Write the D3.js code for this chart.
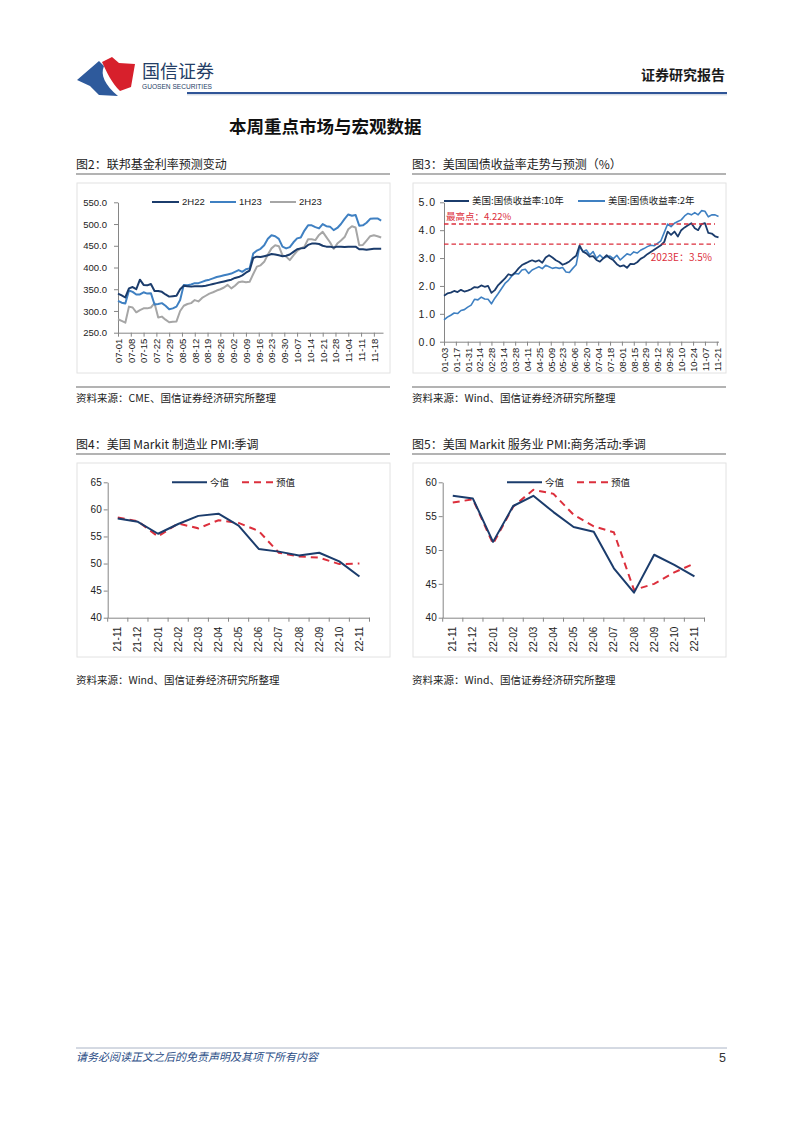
<!DOCTYPE html>
<html><head><meta charset="utf-8">
<script src="https://cdn.jsdelivr.net/npm/d3@7"></script>
<style>
html,body{margin:0;padding:0;background:#fff;}
svg{display:block;}
</style></head><body>
<svg id="page" width="802" height="1133"></svg>
<script>
// ---------- DATA ----------
// Fig 2: Fed funds rate expectations (bp), sampled every 2 calendar days from 2022-07-01
const fedTickLabels = ["07-01","07-08","07-15","07-22","07-29","08-05","08-12","08-19","08-26","09-02","09-09","09-16","09-23","09-30","10-07","10-14","10-21","10-28","11-04","11-11","11-18"];
const fed2H22 = [340,336,331,352,355,350,372,360,359,362, 346,346,344,338,333,334,335,350,358,357, 356,357,357,357,358,360,362,364,366,368, 370,372,376,378,382,388,393,422,425,424, 426,428,431,430,428,426,427,430,436,442, 444,445,452,455,455,454,450,448,448,446, 448,448,447,448,448,448,442,442,441,442, 443,443,443];
const fed1H23 = [323,319,317,347,344,338,338,343,340,341, 315,316,318,312,304,306,310,325,360,359, 361,364,364,367,370,372,375,378,380,382, 384,386,390,394,390,396,398,432,439,443, 451,466,474,472,466,448,444,447,458,467, 469,485,497,497,493,490,500,495,494,486, 491,500,512,522,519,521,496,497,503,512, 513,513,508];
const fed2H23 = [281,277,273,310,308,297,302,306,306,308, 318,285,287,280,274,275,276,300,312,316, 318,325,322,330,335,340,343,347,350,354, 360,352,358,366,368,366,367,385,402,405, 413,430,444,451,449,428,425,417,428,438, 444,448,465,465,463,475,482,470,458,443, 455,462,470,488,495,492,451,452,462,472, 474,472,469];
const fedSeriesNames = ["2H22","1H23","2H23"];

// Fig 3: US Treasury yields (%), sampled every 4 calendar days from 2022-01-03
const ustTickLabels = ["01-03","01-17","01-31","02-14","02-28","03-14","03-28","04-11","04-25","05-09","05-23","06-06","06-20","07-04","07-18","08-01","08-15","08-29","09-12","09-26","10-10","10-24","11-07","11-21"];
const ust10Y = [1.65,1.73,1.76,1.82,1.78,1.86,1.80,1.83,1.88,1.96, 1.94,2.02,1.97,2.00,1.75,1.85,2.03,2.15,2.27,2.42, 2.38,2.48,2.63,2.75,2.81,2.87,2.92,2.87,2.92,2.83, 3.02,3.10,3.02,2.92,2.86,2.76,2.81,2.88,2.99,3.08, 3.45,3.23,3.17,3.05,3.07,2.93,2.87,2.99,3.10,2.99, 2.92,2.78,2.70,2.74,2.65,2.79,2.78,2.85,2.97,3.04, 3.14,3.22,3.30,3.38,3.46,3.58,3.95,3.83,3.95,3.77, 4.00,4.10,4.18,4.25,4.07,4.00,4.22,4.25,3.90,3.88, 3.78,3.74];
const ust2Y = [0.78,0.88,0.95,1.03,1.01,1.12,1.15,1.24,1.31,1.52, 1.50,1.60,1.53,1.52,1.36,1.56,1.73,1.91,2.09,2.20, 2.36,2.45,2.43,2.57,2.60,2.45,2.57,2.63,2.69,2.62, 2.74,2.69,2.63,2.66,2.63,2.66,2.50,2.48,2.63,2.76, 3.40,3.23,3.29,3.11,3.23,2.99,3.11,2.99,3.05,3.07, 2.98,3.10,2.93,3.04,3.15,3.11,3.22,3.18,3.28,3.34, 3.41,3.46,3.44,3.53,3.62,3.92,4.22,4.13,4.25,4.31, 4.37,4.51,4.60,4.55,4.63,4.55,4.70,4.68,4.48,4.55, 4.55,4.49];
const ustSeriesNames = ["美国:国债收益率:10年","美国:国债收益率:2年"];
const ustRefHigh = 4.22, ustRef2023E = 3.5;
const ustRefLabels = ["最高点：4.22%","2023E：3.5%"];

// Fig 4 / Fig 5: US Markit PMI (SA)
const pmiMonths = ["21-11","21-12","22-01","22-02","22-03","22-04","22-05","22-06","22-07","22-08","22-09","22-10","22-11"];
const mfgActual   = [58.3,57.7,55.5,57.3,58.8,59.2,57.0,52.7,52.2,51.5,52.0,50.4,47.6];
const mfgForecast = [58.5,57.8,55.0,57.4,56.5,58.0,57.5,56.0,52.0,51.3,51.1,49.9,50.0];
const svcActual   = [58.0,57.6,51.2,56.5,58.0,55.6,53.4,52.7,47.3,43.7,49.3,47.8,46.1];
const svcForecast = [57.0,57.5,50.9,56.4,58.9,58.3,55.2,53.5,52.6,44.1,45.0,46.7,48.0];
const pmiSeriesNames = ["今值","预值"];

// ---------- STYLE ----------
const CJK = '"Noto Sans CJK SC", sans-serif';
const NUM = '"Liberation Sans", Arial, "Noto Sans CJK SC", sans-serif';
const NAVY = "#1b3c6c", BLUE = "#3f80c2", GRAY = "#a6a6a6", RED = "#dc2f3c", AXIS = "#868686";

const svg = d3.select("#page");
svg.append("rect").attr("width",802).attr("height",1133).attr("fill","#fff");

// ---------- HEADER ----------
svg.append("path").attr("d","M77,80 L99,61 L104,66 C100,75 105,85 118,96 L99,95 L90,86 Z").attr("fill","#2e5a9c");
svg.append("path").attr("d","M102,62 L112,57 L119,63 L135,64 L131,87 L120,91 C112,83 107,73 102,62 Z").attr("fill","#d7202c");
svg.append("text").attr("x",142).attr("y",78).attr("font-family",CJK).attr("font-size",18).attr("fill","#243e66").text("国信证券");
svg.append("text").attr("x",142).attr("y",89).attr("font-family",NUM).attr("font-size",6.6).attr("fill","#243e66").text("GUOSEN SECURITIES");
svg.append("text").attr("x",725).attr("y",80).attr("text-anchor","end").attr("font-family",CJK).attr("font-weight","bold").attr("font-size",14).attr("fill","#1a1a1a").text("证券研究报告");
svg.append("line").attr("x1",187).attr("x2",727).attr("y1",93).attr("y2",93).attr("stroke","#2f5597").attr("stroke-width",2);
svg.append("line").attr("x1",187).attr("x2",727).attr("y1",94.8).attr("y2",94.8).attr("stroke","#b8c2d4").attr("stroke-width",0.8);
svg.append("text").attr("x",229).attr("y",133).attr("font-family",CJK).attr("font-weight","bold").attr("font-size",17.5).attr("fill","#111").text("本周重点市场与宏观数据");

// ---------- FOOTER ----------
svg.append("line").attr("x1",76).attr("x2",727).attr("y1",1048).attr("y2",1048).attr("stroke","#aab4c6").attr("stroke-width",1);
svg.append("text").attr("x",76).attr("y",1061).attr("font-family",CJK).attr("font-style","italic").attr("font-size",11).attr("fill","#2a4d86").text("请务必阅读正文之后的免责声明及其项下所有内容");
svg.append("text").attr("x",726).attr("y",1062).attr("text-anchor","end").attr("font-family",NUM).attr("font-size",12.5).attr("fill","#333").text("5");

// ---------- PANEL FRAMES ----------
function panel(x0, x1, titleY, title, boxTop, boxBottom, srcY, srcText, srcLine) {
  svg.append("text").attr("x",x0).attr("y",titleY).attr("font-family",CJK).attr("font-size",12).attr("fill","#222").text(title);
  svg.append("line").attr("x1",x0).attr("x2",x1).attr("y1",titleY+5).attr("y2",titleY+5).attr("stroke","#9a9a9a").attr("stroke-width",1.5);
  svg.append("rect").attr("x",x0+1).attr("y",boxTop).attr("width",x1-x0-1).attr("height",boxBottom-boxTop).attr("fill","none").attr("stroke","#e2e2e2").attr("stroke-width",1);
  if (srcLine) svg.append("line").attr("x1",x0).attr("x2",x1).attr("y1",srcY-15).attr("y2",srcY-15).attr("stroke","#9a9a9a").attr("stroke-width",1.5);
  svg.append("text").attr("x",x0).attr("y",srcY).attr("font-family",CJK).attr("font-size",10.5).attr("fill","#222").text(srcText);
}
panel(76,390,169,"图2：联邦基金利率预测变动",183,373,402,"资料来源：CME、国信证券经济研究所整理",true);
panel(412,726,169,"图3：美国国债收益率走势与预测（%）",183,373,402,"资料来源：Wind、国信证券经济研究所整理",true);
panel(76,390,449,"图4：美国 Markit 制造业 PMI:季调",463,657,684,"资料来源：Wind、国信证券经济研究所整理",false);
panel(412,726,449,"图5：美国 Markit 服务业 PMI:商务活动:季调",463,657,684,"资料来源：Wind、国信证券经济研究所整理",false);

function styleAxis(g, fontSize) {
  g.selectAll(".domain").attr("stroke",AXIS).attr("stroke-width",1);
  g.selectAll(".tick line").attr("stroke",AXIS);
  g.selectAll(".tick text").attr("font-family",NUM).attr("font-size",fontSize).attr("fill","#222");
}
function rotateLabels(g, gap) {
  g.selectAll(".tick text").attr("transform","rotate(-90)").attr("text-anchor","end").attr("x",-gap).attr("y",0).attr("dy","0.35em");
}
function legendItem(x1, x2, y, color, width, dash, label, fontSize, font) {
  svg.append("line").attr("x1",x1).attr("x2",x2).attr("y1",y).attr("y2",y).attr("stroke",color).attr("stroke-width",width).attr("stroke-dasharray",dash||null);
  svg.append("text").attr("x",x2+3).attr("y",y).attr("dy","0.35em").attr("font-family",font||NUM).attr("font-size",fontSize).attr("fill","#222").text(label);
}

// ---------- FIG 2 ----------
(function(){
  const parse = d3.timeParse("%Y-%m-%d");
  const start = parse("2022-07-01");
  const dates = fed2H22.map((_,i)=>d3.timeDay.offset(start, 2*i));
  const x = d3.scaleTime().domain([start, d3.timeDay.offset(start,145)]).range([118,383]);
  const y = d3.scaleLinear().domain([250,550]).range([332.7,202.3]);
  const tickDates = fedTickLabels.map(l=>parse("2022-"+l));
  const gx = svg.append("g").attr("transform","translate(0,332.7)")
    .call(d3.axisBottom(x).tickValues(tickDates).tickFormat((d,i)=>fedTickLabels[i]).tickSizeOuter(0).tickSizeInner(4));
  styleAxis(gx,9.5); rotateLabels(gx,6);
  const gy = svg.append("g").attr("transform","translate(118,0)")
    .call(d3.axisLeft(y).tickValues(d3.range(250,551,50)).tickFormat(d3.format(".1f")).tickSizeOuter(0).tickSizeInner(4).tickPadding(7));
  styleAxis(gy,9.5);
  const line = d3.line().x((d,i)=>x(dates[i])).y(d=>y(d));
  const series = [[fed2H23,GRAY],[fed1H23,BLUE],[fed2H22,NAVY]];
  series.forEach(([arr,c])=>svg.append("path").datum(arr).attr("d",line).attr("fill","none").attr("stroke",c).attr("stroke-width",2).attr("stroke-linejoin","round"));
  legendItem(152,179,202,NAVY,2,null,fedSeriesNames[0],9.5);
  legendItem(210,236,202,BLUE,2,null,fedSeriesNames[1],9.5);
  legendItem(270,296,202,GRAY,2,null,fedSeriesNames[2],9.5);
})();

// ---------- FIG 3 ----------
(function(){
  const parse = d3.timeParse("%Y-%m-%d");
  const start = parse("2022-01-03");
  const dates = ust10Y.map((_,i)=>d3.timeDay.offset(start, 4*i));
  const x = d3.scaleTime().domain([start, d3.timeDay.offset(start,324)]).range([444,718.5]);
  const y = d3.scaleLinear().domain([0,5]).range([341.7,202.3]);
  const tickDates = ustTickLabels.map(l=>parse("2022-"+l));
  const gx = svg.append("g").attr("transform","translate(0,341.7)")
    .call(d3.axisBottom(x).tickValues(tickDates).tickFormat((d,i)=>ustTickLabels[i]).tickSizeOuter(0).tickSizeInner(4));
  styleAxis(gx,9.5); rotateLabels(gx,6);
  const gy = svg.append("g").attr("transform","translate(444,0)")
    .call(d3.axisLeft(y).tickValues(d3.range(0,5.01,1)).tickFormat(d3.format(".1f")).tickSizeOuter(0).tickSizeInner(4).tickPadding(4));
  styleAxis(gy,10.5);
  gy.selectAll(".tick text").attr("letter-spacing","1px");
  const line = d3.line().x((d,i)=>x(dates[i])).y(d=>y(d));
  svg.append("path").datum(ust2Y).attr("d",line).attr("fill","none").attr("stroke",BLUE).attr("stroke-width",1.6).attr("stroke-linejoin","round");
  svg.append("path").datum(ust10Y).attr("d",line).attr("fill","none").attr("stroke",NAVY).attr("stroke-width",1.8).attr("stroke-linejoin","round");
  [ustRefHigh, ustRef2023E].forEach(v=>{
    svg.append("line").attr("x1",444).attr("x2",715).attr("y1",y(v)).attr("y2",y(v)).attr("stroke",RED).attr("stroke-width",1.4).attr("stroke-dasharray","4.5,3");
  });
  svg.append("text").attr("x",446).attr("y",y(ustRefHigh)-4).attr("font-family",CJK).attr("font-size",9.5).attr("fill",RED).text(ustRefLabels[0]);
  svg.append("text").attr("x",712).attr("y",y(ustRef2023E)+17).attr("text-anchor","end").attr("font-family",CJK).attr("font-size",10).attr("fill",RED).text(ustRefLabels[1]);
  legendItem(444,469,201,NAVY,2,null,ustSeriesNames[0],9.5,CJK);
  legendItem(578,605,201,BLUE,2,null,ustSeriesNames[1],9.5,CJK);
})();

// ---------- FIG 4 & 5 ----------
function pmiChart(x0, x1, yMax, actual, forecast, legendX) {
  const x = d3.scaleBand().domain(pmiMonths).range([x0,x1]).padding(0);
  const y = d3.scaleLinear().domain([40,yMax]).range([617.7,482.3]);
  const gx = svg.append("g").attr("transform","translate(0,617.7)")
    .call(d3.axisBottom(x).tickSizeOuter(0).tickSizeInner(0));
  styleAxis(gx,10); rotateLabels(gx,9);
  const bounds = pmiMonths.map(m=>x(m)).concat([x.range()[1]]);
  gx.selectAll(".bnd").data(bounds).enter().append("line").attr("class","bnd")
    .attr("x1",d=>d).attr("x2",d=>d).attr("y1",0).attr("y2",4).attr("stroke",AXIS);
  const gy = svg.append("g").attr("transform",`translate(${x0},0)`)
    .call(d3.axisLeft(y).tickValues(d3.range(40,yMax+0.1,5)).tickSizeOuter(0).tickSizeInner(4).tickPadding(2));
  styleAxis(gy,10);
  const cx = m=>x(m)+x.bandwidth()/2;
  const line = d3.line().x((d,i)=>cx(pmiMonths[i])).y(d=>y(d));
  svg.append("path").datum(forecast).attr("d",line).attr("fill","none").attr("stroke",RED).attr("stroke-width",2).attr("stroke-dasharray","7,5");
  svg.append("path").datum(actual).attr("d",line).attr("fill","none").attr("stroke",NAVY).attr("stroke-width",2).attr("stroke-linejoin","round");
  legendItem(legendX,legendX+35,482.3,NAVY,2,null,pmiSeriesNames[0],9.5,CJK);
  legendItem(legendX+70,legendX+101,482.3,RED,2,"7,5",pmiSeriesNames[1],9.5,CJK);
}
pmiChart(107.7,369.5,65,mfgActual,mfgForecast,172);
pmiChart(442.7,704.5,60,svcActual,svcForecast,507);
</script>
</body></html>
